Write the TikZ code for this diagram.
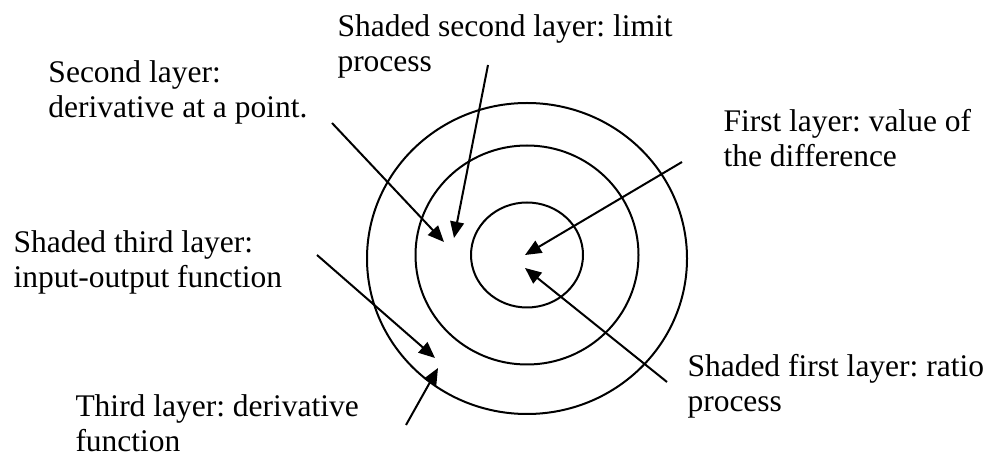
\documentclass[tikz,border=0pt]{standalone}
\usepackage{fontspec}
\setmainfont{Liberation Serif}
\frenchspacing
\usetikzlibrary{arrows.meta}
\tikzset{
  lbl/.style={anchor=base west,align=left,inner sep=0pt,font=\fontsize{12.6}{14.2}\selectfont},
  ptr/.style={-{Triangle[length=6.5pt,width=5.5pt]},line width=0.8pt},
  ring/.style={line width=0.8pt},
}

\begin{document}
\begin{tikzpicture}[x=0.4pt,y=-0.4pt]
  \useasboundingbox (0,0) rectangle (992,458);
  % ===== the three rings =====
  \coordinate (ctr) at (527,255);
  \draw[ring] (ctr) ellipse [x radius=56,y radius=52.5];
  \draw[ring] (ctr) ellipse [x radius=111.5,y radius=109.5];
  \draw[ring] (527,258.5) ellipse [x radius=160,y radius=155.5];

  % ===== labels (placed at the baseline of their last line) =====
  \node[lbl] (shsec) at (337,72){Shaded second layer: limit\\process};
  \node[lbl] (sec) at (48,118){Second layer:\\derivative at a point.};
  \node[lbl] (fst) at (723,167){First layer: value of\\the difference};
  \node[lbl] (shthr) at (13,288){Shaded third layer:\\input-output function};
  \node[lbl] (shfst) at (687,412){Shaded first layer: ratio\\process};
  \node[lbl] (thr) at (75,452){Third layer: derivative\\function};

  % ===== arrows into the rings =====
  \coordinate (shsec-t) at (488,65);  \coordinate (shsec-h) at (454,238);
  \coordinate (sec-t) at (332,123);   \coordinate (sec-h) at (444,242);
  \coordinate (fst-t) at (682,162);   \coordinate (fst-h) at (525,255);
  \coordinate (shfst-t) at (667,382); \coordinate (shfst-h) at (525,268);
  \coordinate (shthr-t) at (317,255); \coordinate (shthr-h) at (435,358);
  \coordinate (thr-t) at (406,425);   \coordinate (thr-h) at (438,368);
  \draw[ptr] (shsec-t)--(shsec-h);
  \draw[ptr] (sec-t)--(sec-h);
  \draw[ptr] (fst-t)--(fst-h);
  \draw[ptr] (shfst-t)--(shfst-h);
  \draw[ptr] (shthr-t)--(shthr-h);
  \draw[ptr] (thr-t)--(thr-h);
\end{tikzpicture}
\end{document}
